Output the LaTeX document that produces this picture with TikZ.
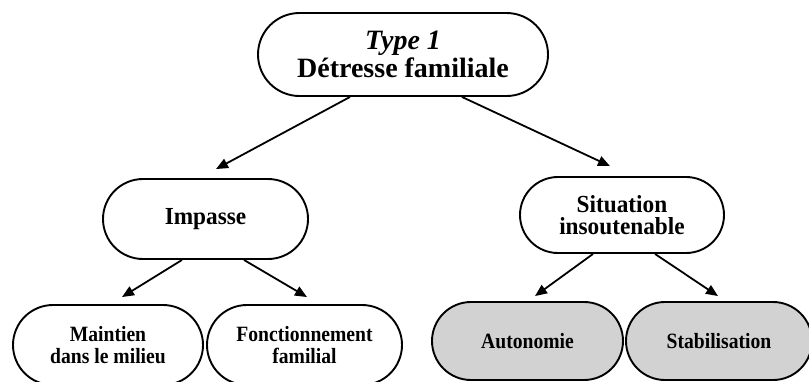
\documentclass[tikz,border=0pt]{standalone}
\usepackage{fontspec}
\setmainfont{Liberation Serif}
\newfontfamily\lowserif{Liberation Serif}[FakeStretch=0.9]
\newfontfamily\midserif{Liberation Serif}[FakeStretch=0.95]
\usetikzlibrary{shapes.misc,arrows.meta}
\begin{document}
\begin{tikzpicture}[x=1pt,y=-1pt,
  pill/.style={rounded rectangle, draw=black, line width=1.9pt, align=center, inner sep=0pt},
  topfont/.style={font=\fontsize{28}{28.5}\selectfont\bfseries},
  midfont/.style={font=\midserif\fontsize{24.5}{22.5}\selectfont\bfseries},
  lowfont/.style={font=\lowserif\fontsize{21.8}{22}\selectfont\bfseries},
  leaf/.style={fill=gray!35},
  arr/.style={line width=1.8pt, -{Triangle[length=12pt,width=10pt]}}
]
\useasboundingbox (0,0) rectangle (809,381);
\node[pill, topfont, minimum width=290pt, minimum height=83pt] (top) at (403,54.5) {\textit{Type 1}\\Détresse familiale};
\node[pill, midfont, minimum width=205pt, minimum height=80pt] (imp) at (205.5,219) {Impasse};
\node[pill, midfont, minimum width=204pt, minimum height=76pt] (sit) at (622,215) {Situation\\insoutenable};
\node[pill, lowfont, minimum width=190pt, minimum height=80pt] (main) at (108,345) {Maintien\\dans le milieu};
\node[pill, lowfont, minimum width=195pt, minimum height=80pt] (fonc) at (304.5,345) {Fonctionnement\\familial};
\node[pill, lowfont, leaf, minimum width=191pt, minimum height=78pt] (auto) at (527.5,341) {Autonomie};
\node[pill, lowfont, leaf, minimum width=186pt, minimum height=78pt] (stab) at (719,341) {Stabilisation};
\draw[arr] ([xshift=-53pt]top.south) -- ([xshift=10.5pt,yshift=9pt]imp.north);
\draw[arr] ([xshift=59pt]top.south) -- ([xshift=-12pt,yshift=10pt]sit.north);
\draw[arr] ([xshift=-23.5pt]imp.south) -- ([xshift=14pt,yshift=7pt]main.north);
\draw[arr] ([xshift=38.5pt]imp.south) -- ([xshift=2.5pt,yshift=7pt]fonc.north);
\draw[arr] ([xshift=-29pt]sit.south) -- ([xshift=7.5pt,yshift=5pt]auto.north);
\draw[arr] ([xshift=33pt]sit.south) -- ([xshift=-1pt,yshift=5pt]stab.north);
\end{tikzpicture}
\end{document}
